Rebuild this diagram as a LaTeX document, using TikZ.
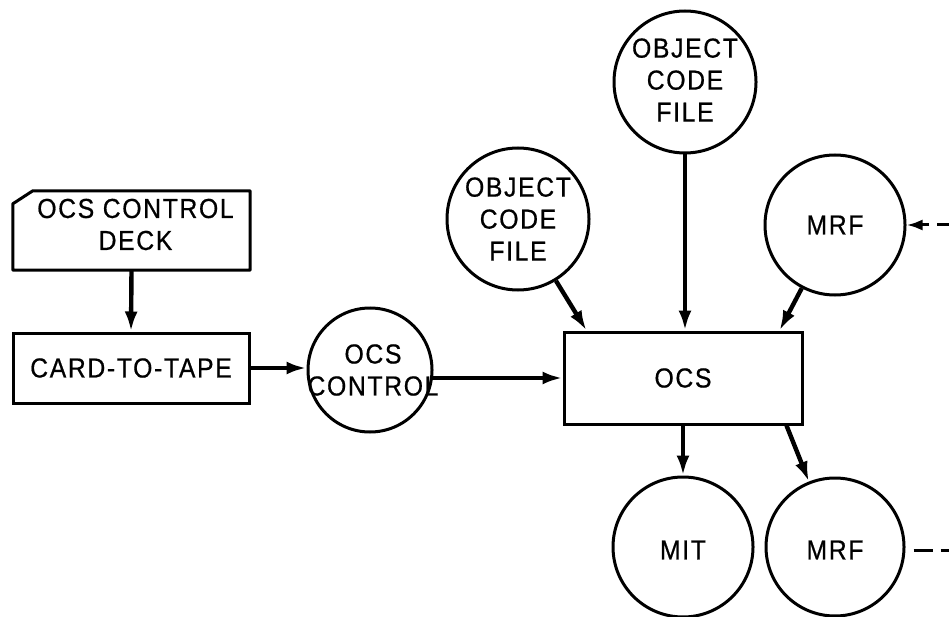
\documentclass[tikz,border=0pt]{standalone}
\usepackage{fontspec}
\setmainfont[LetterSpace=6,FakeStretch=0.9,FakeBold=0.6]{Liberation Sans}
\usetikzlibrary{arrows.meta,calc}
\tikzset{
  box/.style={draw, line width=3pt, rectangle, inner sep=0pt},
  circ/.style={draw, line width=3pt, circle, inner sep=0pt, minimum size=#1},
  lbl/.style={align=center, inner sep=0pt, font=\fontsize{27.5}{32}\selectfont},
  arr/.style={line width=4.4pt, -{Latex[length=20pt,width=13pt]}},
  dsh/.style={line width=3pt, dash pattern=on 12pt off 8pt}
}
\begin{document}
\begin{tikzpicture}[x=1pt,y=-1pt]
\useasboundingbox (0,0) rectangle (949,617);
\fill[white] (0,0) rectangle (949,617);
% card deck
\node[minimum width=237pt, minimum height=79pt, inner sep=0pt] (deck) at (131.5,230.5) {};
\draw[line width=3pt, line join=round]
  ($(deck.north west)+(20,0)$) -- (deck.north east) -- (deck.south east)
  -- (deck.south west) -- ($(deck.north west)+(0,13)$) -- cycle;
\node[lbl] at ($(deck.center)+(4,-6)$) {OCS CONTROL\\DECK};
\node[box, minimum width=236pt, minimum height=70pt] (tape) at (131,368) {};
\node[lbl] at (tape) {CARD-TO-TAPE};
\node[circ=124pt] (ctl) at (370,370) {};
\node[lbl] at ($(ctl)+(3,0)$) {OCS\\CONTROL};
\node[box, minimum width=238pt, minimum height=92pt] (ocs) at (683,378) {};
\node[lbl] at (ocs) {OCS};
\node[circ=142pt] (obj1) at (518,219) {};
\node[lbl] at ($(obj1)+(0,0)$) {OBJECT\\CODE\\FILE};
\node[circ=142pt] (obj2) at (685,82) {};
\node[lbl] at ($(obj2)+(0,-2)$) {OBJECT\\CODE\\FILE};
\node[circ=140pt] (mrf1) at (835,225) {};
\node[lbl] at (mrf1) {MRF};
\node[circ=140pt] (mit) at (683,547) {};
\node[lbl] at ($(mit)+(0,3)$) {MIT};
\node[circ=138pt] (mrf2) at (835,547) {};
\node[lbl] at ($(mrf2)+(0,3)$) {MRF};
% connectors
\draw[arr] (deck.south) -- (tape.north);
\draw[arr] (tape.east) -- (tape.east -| ctl.west);
\coordinate (c1) at ($(ctl)+(7.4:62)$);
\draw[arr] (c1) -- (c1 -| ocs.west);
\coordinate (a1) at ($(ocs.north west)+(24,0)$);
\draw[arr] (obj1) -- (a1);
\draw[arr] (obj2) -- (obj2 |- ocs.north);
\coordinate (a3) at ($(ocs.north east)+(-24,0)$);
\draw[arr] (mrf1) -- (a3);
\draw[arr] (mit |- ocs.south) -- (mit);
\coordinate (a4) at ($(ocs.south east)+(-17,0)$);
\draw[arr] (a4) -- (mrf2);
\coordinate (in1) at (949,225);
\draw[dsh, -{Latex[length=16pt,width=11pt]}] (in1) -- (mrf1.east);
\coordinate (o1) at ($(mrf2.east)+(8,3)$);
\coordinate (o2) at (949,550);
\draw[dsh, dash pattern=on 19pt off 8pt] (o1) -- (o2);
\end{tikzpicture}
\end{document}
